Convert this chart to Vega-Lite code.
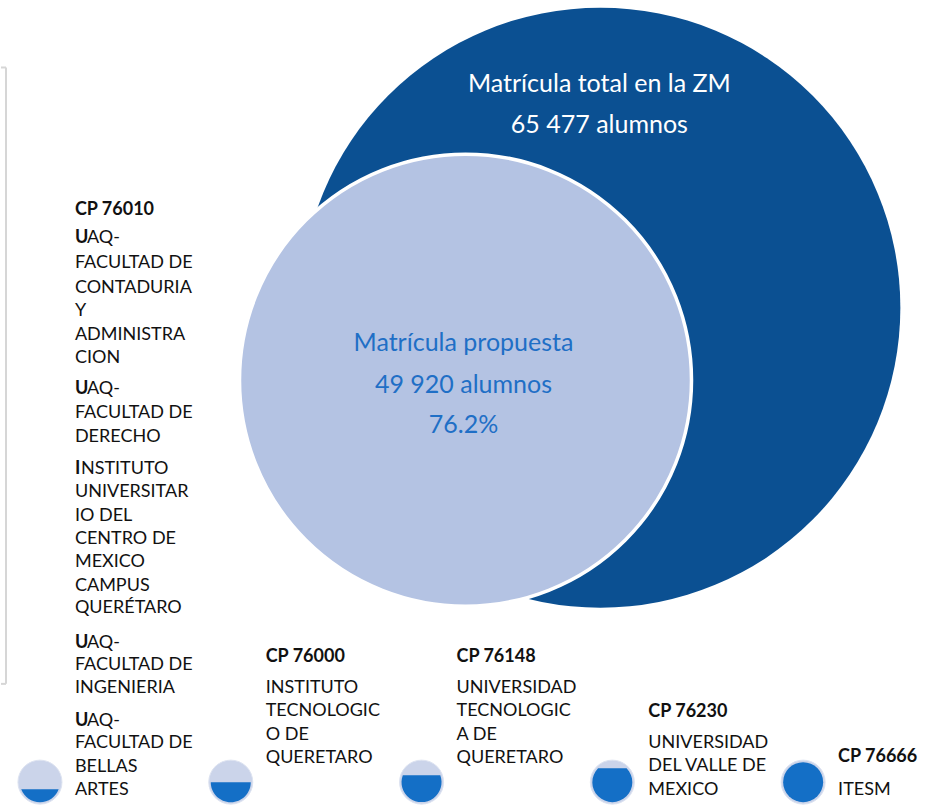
{
  "$schema": "https://vega.github.io/schema/vega-lite/v6.json",
  "width": 936,
  "height": 806,
  "autosize": {"type": "fit", "contains": "padding"},
  "padding": 0,
  "background": "white",
  "config": {"view": {"stroke": null}, "text": {"font": "Lato"}},
  "datasets": {
    "circulos": [
      {"serie": "total", "nombre": "Matrícula total en la ZM", "alumnos": 65477, "x": 600, "y": 310},
      {"serie": "propuesta", "nombre": "Matrícula propuesta", "alumnos": 49920, "pct": 76.2, "x": 465, "y": 383}
    ],
    "rotulos": [
      {"serie": "total", "t": "Matrícula total en la ZM", "x": 599, "y": 82},
      {"serie": "total", "t": "65 477 alumnos", "x": 599, "y": 123},
      {"serie": "propuesta", "t": "Matrícula propuesta", "x": 463, "y": 343},
      {"serie": "propuesta", "t": "49 920 alumnos", "x": 463, "y": 385},
      {"serie": "propuesta", "t": "76.2%", "x": 463, "y": 425}
    ],
    "marco": [
      {"x": 5, "y": 68, "x2": 5, "y2": 689},
      {"x": 0, "y": 68, "x2": 5, "y2": 68},
      {"x": 0, "y": 689, "x2": 5, "y2": 689}
    ],
    "indicadores": [
      {"cp": "76010", "nivel": 0.325, "x": 39, "y": 788},
      {"cp": "76000", "nivel": 0.5, "x": 230, "y": 788},
      {"cp": "76148", "nivel": 0.675, "x": 421, "y": 788},
      {"cp": "76230", "nivel": 0.85, "x": 612, "y": 788},
      {"cp": "76666", "nivel": 1, "x": 803, "y": 788}
    ],
    "textos": [
      {"tipo": "cp", "t": "CP 76010", "x": 74, "y": 209},
      {"tipo": "inicial", "t": "U", "x": 74, "y": 237},
      {"tipo": "texto", "t": "AQ-", "x": 86, "y": 237},
      {"tipo": "texto", "t": "FACULTAD DE", "x": 74, "y": 262},
      {"tipo": "texto", "t": "CONTADURIA", "x": 74, "y": 287},
      {"tipo": "texto", "t": "Y", "x": 74, "y": 310},
      {"tipo": "texto", "t": "ADMINISTRA", "x": 74, "y": 334},
      {"tipo": "texto", "t": "CION", "x": 74, "y": 358},
      {"tipo": "inicial", "t": "U", "x": 74, "y": 389},
      {"tipo": "texto", "t": "AQ-", "x": 86, "y": 389},
      {"tipo": "texto", "t": "FACULTAD DE", "x": 74, "y": 413},
      {"tipo": "texto", "t": "DERECHO", "x": 74, "y": 437},
      {"tipo": "inicial", "t": "I", "x": 74, "y": 469},
      {"tipo": "texto", "t": "NSTITUTO", "x": 80, "y": 469},
      {"tipo": "texto", "t": "UNIVERSITAR", "x": 74, "y": 493},
      {"tipo": "texto", "t": "IO DEL", "x": 74, "y": 517},
      {"tipo": "texto", "t": "CENTRO DE", "x": 74, "y": 540},
      {"tipo": "texto", "t": "MEXICO", "x": 74, "y": 563},
      {"tipo": "texto", "t": "CAMPUS", "x": 74, "y": 587},
      {"tipo": "texto", "t": "QUERÉTARO", "x": 74, "y": 610},
      {"tipo": "inicial", "t": "U", "x": 74, "y": 645},
      {"tipo": "texto", "t": "AQ-", "x": 86, "y": 645},
      {"tipo": "texto", "t": "FACULTAD DE", "x": 74, "y": 667},
      {"tipo": "texto", "t": "INGENIERIA", "x": 74, "y": 690},
      {"tipo": "inicial", "t": "U", "x": 74, "y": 723},
      {"tipo": "texto", "t": "AQ-", "x": 86, "y": 723},
      {"tipo": "texto", "t": "FACULTAD DE", "x": 74, "y": 746},
      {"tipo": "texto", "t": "BELLAS", "x": 74, "y": 770},
      {"tipo": "texto", "t": "ARTES", "x": 74, "y": 793},
      {"tipo": "cp", "t": "CP 76000", "x": 265, "y": 659},
      {"tipo": "texto", "t": "INSTITUTO", "x": 265, "y": 690},
      {"tipo": "texto", "t": "TECNOLOGIC", "x": 265, "y": 713},
      {"tipo": "texto", "t": "O DE", "x": 265, "y": 737},
      {"tipo": "texto", "t": "QUERETARO", "x": 265, "y": 761},
      {"tipo": "cp", "t": "CP 76148", "x": 456, "y": 659},
      {"tipo": "texto", "t": "UNIVERSIDAD", "x": 456, "y": 690},
      {"tipo": "texto", "t": "TECNOLOGIC", "x": 456, "y": 713},
      {"tipo": "texto", "t": "A DE", "x": 456, "y": 737},
      {"tipo": "texto", "t": "QUERETARO", "x": 456, "y": 761},
      {"tipo": "cp", "t": "CP 76230", "x": 648, "y": 714},
      {"tipo": "texto", "t": "UNIVERSIDAD", "x": 648, "y": 746},
      {"tipo": "texto", "t": "DEL VALLE DE", "x": 648, "y": 769},
      {"tipo": "texto", "t": "MEXICO", "x": 648, "y": 793},
      {"tipo": "cp", "t": "CP 76666", "x": 838, "y": 760},
      {"tipo": "texto", "t": "ITESM", "x": 838, "y": 793}
    ]
  },
  "encoding": {
    "x": {"field": "x", "type": "quantitative", "scale": {"domain": [0, 936], "nice": false, "zero": false}, "axis": null},
    "y": {"field": "y", "type": "quantitative", "scale": {"domain": [0, 806], "nice": false, "zero": false, "reverse": true}, "axis": null}
  },
  "layer": [
    {
      "data": {"name": "marco"},
      "mark": {"type": "rule", "color": "#d6d6d6", "strokeWidth": 2},
      "encoding": {
        "x2": {"field": "x2"},
        "y2": {"field": "y2"}
      }
    },
    {
      "data": {"name": "circulos"},
      "transform": [{"filter": "datum.serie === 'total'"}],
      "mark": {"type": "point", "shape": "circle", "filled": true, "opacity": 1, "color": "#0B5092", "size": 360000}
    },
    {
      "data": {"name": "circulos"},
      "transform": [{"filter": "datum.serie === 'propuesta'"}],
      "mark": {"type": "point", "shape": "circle", "filled": true, "opacity": 1, "fill": "#B4C3E3", "stroke": "white", "strokeWidth": 3.5, "size": 204304}
    },
    {
      "data": {"name": "rotulos"},
      "mark": {"type": "text", "fontSize": 25, "align": "center", "baseline": "middle", "dy": 3},
      "encoding": {
        "text": {"field": "t"},
        "color": {"condition": {"test": "datum.serie === 'total'", "value": "white"}, "value": "#1F6FC6"}
      }
    },
    {
      "data": {"name": "indicadores"},
      "mark": {"type": "point", "shape": "circle", "filled": true, "opacity": 1, "fill": "#CBD4EA", "stroke": "#DDE3F1", "strokeWidth": 1, "size": 1936}
    },
    {
      "data": {"name": "indicadores"},
      "mark": {"type": "point", "filled": true, "opacity": 1, "fill": "#146FC6", "size": 1600},
      "encoding": {
        "shape": {
          "field": "nivel",
          "type": "nominal",
          "legend": null,
          "scale": {
            "domain": [0.325, 0.5, 0.675, 0.85, 1],
            "range": [
              "M -0.937 0.35 A 1 1 0 0 0 0.937 0.35 Z",
              "M -1 0 A 1 1 0 0 0 1 0 Z",
              "M -0.937 -0.35 A 1 1 0 1 0 0.937 -0.35 Z",
              "M -0.714 -0.7 A 1 1 0 1 0 0.714 -0.7 Z",
              "circle"
            ]
          }
        }
      }
    },
    {
      "data": {"name": "textos"},
      "transform": [{"filter": "datum.tipo === 'texto'"}],
      "mark": {"type": "text", "fontSize": 18, "align": "left", "baseline": "middle", "dy": 3, "color": "#111111"},
      "encoding": {"text": {"field": "t"}}
    },
    {
      "data": {"name": "textos"},
      "transform": [{"filter": "datum.tipo !== 'texto'"}],
      "mark": {"type": "text", "fontSize": 18, "fontWeight": "bold", "align": "left", "baseline": "middle", "dy": 3, "color": "#111111"},
      "encoding": {"text": {"field": "t"}}
    }
  ]
}
